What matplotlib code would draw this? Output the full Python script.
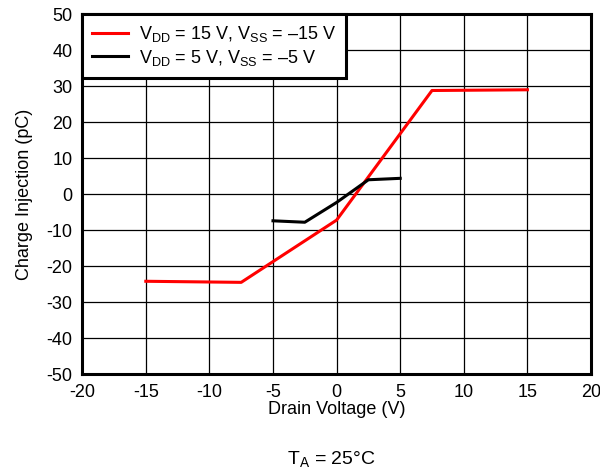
import matplotlib.pyplot as plt

plt.rcParams['font.family'] = ['Liberation Sans', 'DejaVu Sans']
plt.rcParams['mathtext.fontset'] = 'custom'
plt.rcParams['mathtext.rm'] = 'Liberation Sans'
plt.rcParams['mathtext.it'] = 'Liberation Sans'

# data
v_15 = [-15, -7.5, 0, 7.5, 15]
q_15 = [-24.2, -24.5, -7.2, 28.8, 29.0]
v_5 = [-5, -2.5, 0, 2.5, 5]
q_5 = [-7.4, -7.8, -2.3, 4.0, 4.4]

x_ticks = [-20, -15, -10, -5, 0, 5, 10, 15, 20]
y_ticks = [-50, -40, -30, -20, -10, 0, 10, 20, 30, 40, 50]

fig = plt.figure(figsize=(6.0, 4.73), dpi=100)
ax = fig.add_axes([0.137, 0.209, 0.848, 0.761])

ax.plot(v_15, q_15, color='#ff0000', lw=2.2,
        label=r'V$_{\rm DD}$ = 15 V, V$_{\rm SS}$ = –15 V', zorder=3)
ax.plot(v_5, q_5, color='black', lw=2.2,
        label=r'V$_{\rm DD}$ = 5 V, V$_{\rm SS}$ = –5 V', zorder=3)

ax.set_xlim(-20, 20)
ax.set_ylim(-50, 50)
ax.set_xticks(x_ticks)
ax.set_yticks(y_ticks)
ax.set_xticklabels([str(t) for t in x_ticks])
ax.set_yticklabels([str(t) for t in y_ticks])
ax.tick_params(length=0, labelsize=13, pad=7)
ax.grid(True, color='black', lw=0.9)
ax.set_axisbelow(True)
for s in ax.spines.values():
    s.set_linewidth(2.2)

ax.set_xlabel('Drain Voltage (V)', fontsize=13, labelpad=0)
ax.set_ylabel('Charge Injection (pC)', fontsize=13, labelpad=10)

leg = ax.legend(loc='upper left', fontsize=13, borderaxespad=0, fancybox=False,
                framealpha=1, edgecolor='black', handlelength=2.0,
                handletextpad=0.6, labelspacing=0.2, borderpad=0.55)
leg.get_frame().set_linewidth(2.2)

fig.text(0.553, 0.008, r'T$_{\rm A}$ = 25°C', ha='center', va='bottom', fontsize=14)

fig.savefig('out.png', dpi=100, facecolor='white')
